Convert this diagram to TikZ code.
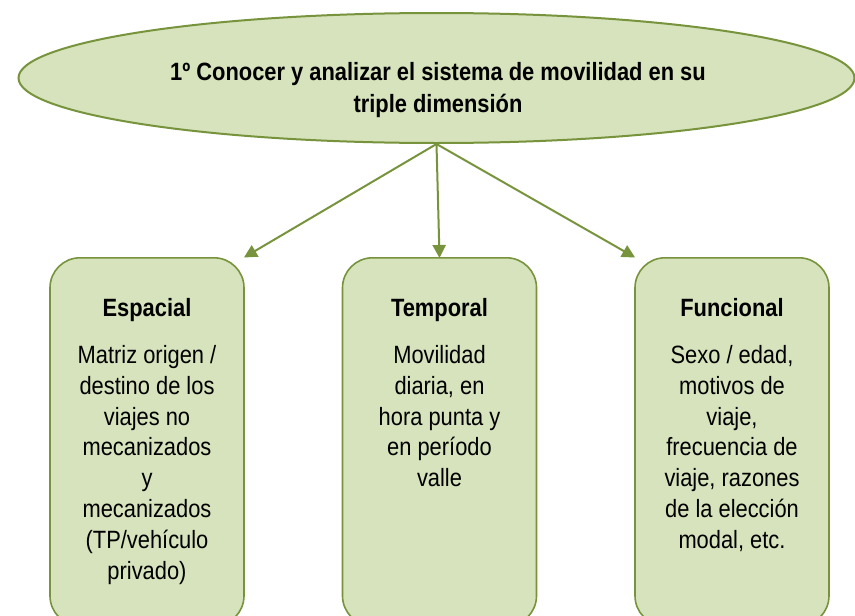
\documentclass[tikz,border=0pt]{standalone}
\usepackage{fontspec}
\setmainfont[FakeStretch=0.875]{Liberation Sans}
\usetikzlibrary{shapes.geometric,arrows.meta}
\definecolor{boxfill}{HTML}{D6E3BC}
\definecolor{boxline}{HTML}{77933C}
\tikzset{
  titleell/.style={ellipse, draw=boxline, fill=boxfill, line width=2pt, minimum width=836pt, minimum height=130pt, inner sep=0pt},
  dimbox/.style={rectangle, rounded corners=30pt, draw=boxline, fill=boxfill, line width=1.6pt, minimum width=194pt, minimum height=368pt, inner sep=0pt, anchor=north},
  headtxt/.style={font=\fontsize{25}{30.8}\selectfont\bfseries, anchor=base, inner sep=0pt},
  bodytxt/.style={font=\fontsize{25}{30.8}\selectfont, align=center, anchor=base, inner sep=0pt},
  conn/.style={draw=boxline, line width=2pt, -{Triangle[length=13pt,width=13pt]}, shorten >=-1pt}
}
\begin{document}
\begin{tikzpicture}[x=1pt,y=-1pt]
\useasboundingbox (0,0) rectangle (855,616);
\clip (0,0) rectangle (855,616);
\node[titleell] (goal) at (436.5,78) {};
\node[font=\fontsize{25}{31.5}\selectfont\bfseries, align=center, anchor=base, inner sep=0pt] (goaltxt) at (438,112) {1º Conocer y analizar el sistema de movilidad en su\\triple dimensión};
\node[dimbox] (esp) at (147,257) {};
\node[dimbox] (tem) at (439.5,257) {};
\node[dimbox] (fun) at (732,257) {};
\node[headtxt] (esph) at (147,316) {Espacial};
\node[headtxt] (temh) at (439.5,316) {Temporal};
\node[headtxt] (funh) at (732,316) {Funcional};
\node[bodytxt] (espb) at (147,579.1) {Matriz origen /\\destino de los\\viajes no\\mecanizados\\y\\mecanizados\\(TP/vehículo\\privado)};
\node[bodytxt] (temb) at (439.5,486.7) {Movilidad\\diaria, en\\hora punta y\\en período\\valle};
\node[bodytxt] (funb) at (732,548.3) {Sexo / edad,\\motivos de\\viaje,\\frecuencia de\\viaje, razones\\de la elección\\modal, etc.};
\draw[conn] (goal.south) -- (esp.north east);
\draw[conn] (goal.south) -- (tem.north);
\draw[conn] (goal.south) -- (fun.north west);
\end{tikzpicture}
\end{document}
